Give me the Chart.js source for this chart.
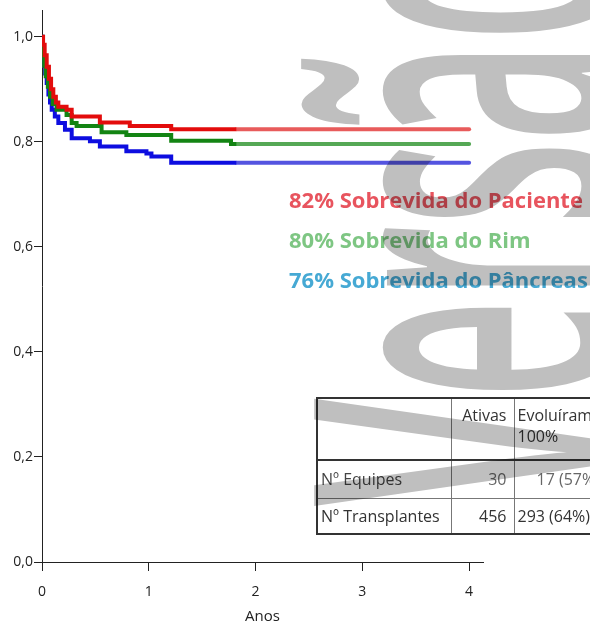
<!DOCTYPE html>
<html>
<head>
<meta charset="utf-8">
<script src="https://cdn.jsdelivr.net/npm/chart.js@4.4.1/dist/chart.umd.min.js"></script>
<style>
html, body { margin: 0; padding: 0; background: #fff; overflow: hidden; }
#wrap { position: relative; width: 590px; height: 623px; overflow: hidden; }
#chart { position: absolute; left: 0; top: 0; }
.lbl { position: absolute; left: 289px; font: bold 22px "Open Sans"; white-space: nowrap; line-height: 26px; }
table { position: absolute; left: 316px; top: 397px; width: 370px; table-layout: fixed; border-collapse: collapse; font: 16px "Open Sans"; color: #333; border: 2px solid #333; }
td { border: 1px solid #777; padding: 0 3px; white-space: nowrap; overflow: hidden; }
tr.head td { border-bottom: 2px solid #333; vertical-align: top; padding-top: 6px; line-height: 21px; }
td.num { text-align: right; padding-right: 7px; }
td.gray { color: #666; }
#mark { position: absolute; left: 0; top: 0; mix-blend-mode: multiply; pointer-events: none; }
</style>
</head>
<body>
<div id="wrap">
  <canvas id="chart" width="590" height="623"></canvas>
  <div class="lbl" style="top:186px;color:#e8545e">82% Sobrevida do Paciente</div>
  <div class="lbl" style="top:226px;color:#7ec683">80% Sobrevida do Rim</div>
  <div class="lbl" style="top:266px;color:#46a9d4">76% Sobrevida do Pâncreas</div>
  <table>
    <colgroup><col style="width:134px"><col style="width:63px"><col style="width:173px"></colgroup>
    <tr class="head" style="height:62px">
      <td></td>
      <td class="num">Ativas</td>
      <td>Evoluíram<br>100%</td>
    </tr>
    <tr style="height:38px">
      <td style="color:#444">Nº Equipes</td>
      <td class="num gray">30</td>
      <td class="gray" style="padding-left:22px">17 (57%)</td>
    </tr>
    <tr style="height:36px">
      <td>Nº Transplantes</td>
      <td class="num">456</td>
      <td>293 (64%)</td>
    </tr>
  </table>
  <canvas id="mark" width="590" height="623"></canvas>
</div>
<script>
// Kaplan-Meier steps (years, survival)
const patientT = [0, 0.01, 0.025, 0.044, 0.065, 0.085, 0.106, 0.13, 0.153, 0.23, 0.278, 0.542, 0.822, 1.21, 1.82];
const patientS = [1.0, 0.985, 0.965, 0.943, 0.92, 0.90, 0.886, 0.875, 0.867, 0.861, 0.848, 0.837, 0.830, 0.824, 0.824];

const kidneyT = [0, 0.005, 0.02, 0.035, 0.055, 0.075, 0.1, 0.137, 0.23, 0.278, 0.324, 0.558, 0.79, 1.21, 1.77, 1.82];
const kidneyS = [1.0, 0.965, 0.945, 0.925, 0.905, 0.886, 0.872, 0.861, 0.851, 0.836, 0.830, 0.818, 0.813, 0.802, 0.796, 0.796];

const pancreasT = [0, 0.005, 0.015, 0.03, 0.044, 0.06, 0.075, 0.091, 0.12, 0.153, 0.215, 0.278, 0.449, 0.542, 0.79, 0.978, 1.025, 1.21, 1.82];
const pancreasS = [1.0, 0.96, 0.945, 0.93, 0.912, 0.89, 0.875, 0.861, 0.848, 0.836, 0.823, 0.807, 0.801, 0.791, 0.782, 0.778, 0.772, 0.760, 0.760];

// projected flat part
const projT = [1.82, 4.0];

const yTicks = [0, 0.2, 0.4, 0.6, 0.8, 1.0];
const xTicks = [0, 1, 2, 3, 4];

function pts(t, s) { return t.map((x, i) => ({ x: x, y: s[i] })); }
function proj(s) { const last = s[s.length - 1]; return projT.map(x => ({ x: x, y: last })); }

function line(data, color, order, cap) {
    return {
        data: data,
        borderColor: color,
        borderWidth: 4,
        pointRadius: 0,
        stepped: true,
        fill: false,
        order: order,
        borderCapStyle: cap || 'butt',
        borderJoinStyle: 'miter'
    };
}

const axisFont = { family: 'Open Sans', size: 14 };

new Chart(document.getElementById('chart').getContext('2d'), {
    type: 'line',
    data: {
        datasets: [
            line(pts(patientT, patientS), '#e30c0c', 1),
            line(proj(patientS), '#e85b5b', 1, 'round'),
            line(pts(kidneyT, kidneyS), '#138413', 2),
            line(proj(kidneyS), '#55a855', 2, 'round'),
            line(pts(pancreasT, pancreasS), '#0d0de0', 3),
            line(proj(pancreasS), '#5454e0', 3, 'round')
        ]
    },
    options: {
        responsive: false,
        animation: false,
        layout: { padding: { top: 10, right: 107, left: 0, bottom: 0 } },
        plugins: { legend: { display: false }, tooltip: { enabled: false } },
        scales: {
            x: {
                type: 'linear',
                min: 0,
                max: 4.13,
                afterFit: s => { s.height = 61; },
                afterBuildTicks: s => { s.ticks = xTicks.map(v => ({ value: v })); },
                ticks: { color: '#222', font: axisFont, padding: 13, callback: v => String(v) },
                grid: { drawOnChartArea: false, drawTicks: true, tickLength: 9, color: '#222' },
                border: { display: true, color: '#222', width: 1 },
                title: { display: true, text: 'Anos', color: '#222', font: { family: 'Open Sans', size: 15 }, padding: { top: 0, bottom: -3 } }
            },
            y: {
                min: 0,
                max: 1.051,
                afterFit: s => { s.width = 42; },
                afterBuildTicks: s => { s.ticks = yTicks.map(v => ({ value: v })); },
                ticks: { color: '#222', font: axisFont, padding: 1, callback: v => v.toFixed(1).replace('.', ',') },
                grid: { drawOnChartArea: false, drawTicks: true, tickLength: 8, color: '#222' },
                border: { display: true, color: '#222', width: 1 }
            }
        }
    }
});

// watermark
const mk = document.getElementById('mark').getContext('2d');
mk.save();
mk.translate(614, 506);
mk.rotate(-Math.PI / 2);
mk.scale(0.41, 1);
mk.font = '600 420px "Open Sans"';
mk.fillStyle = '#bfbfbf';
mk.fillText('Versão', 0, 0);
mk.restore();
</script>
</body>
</html>
